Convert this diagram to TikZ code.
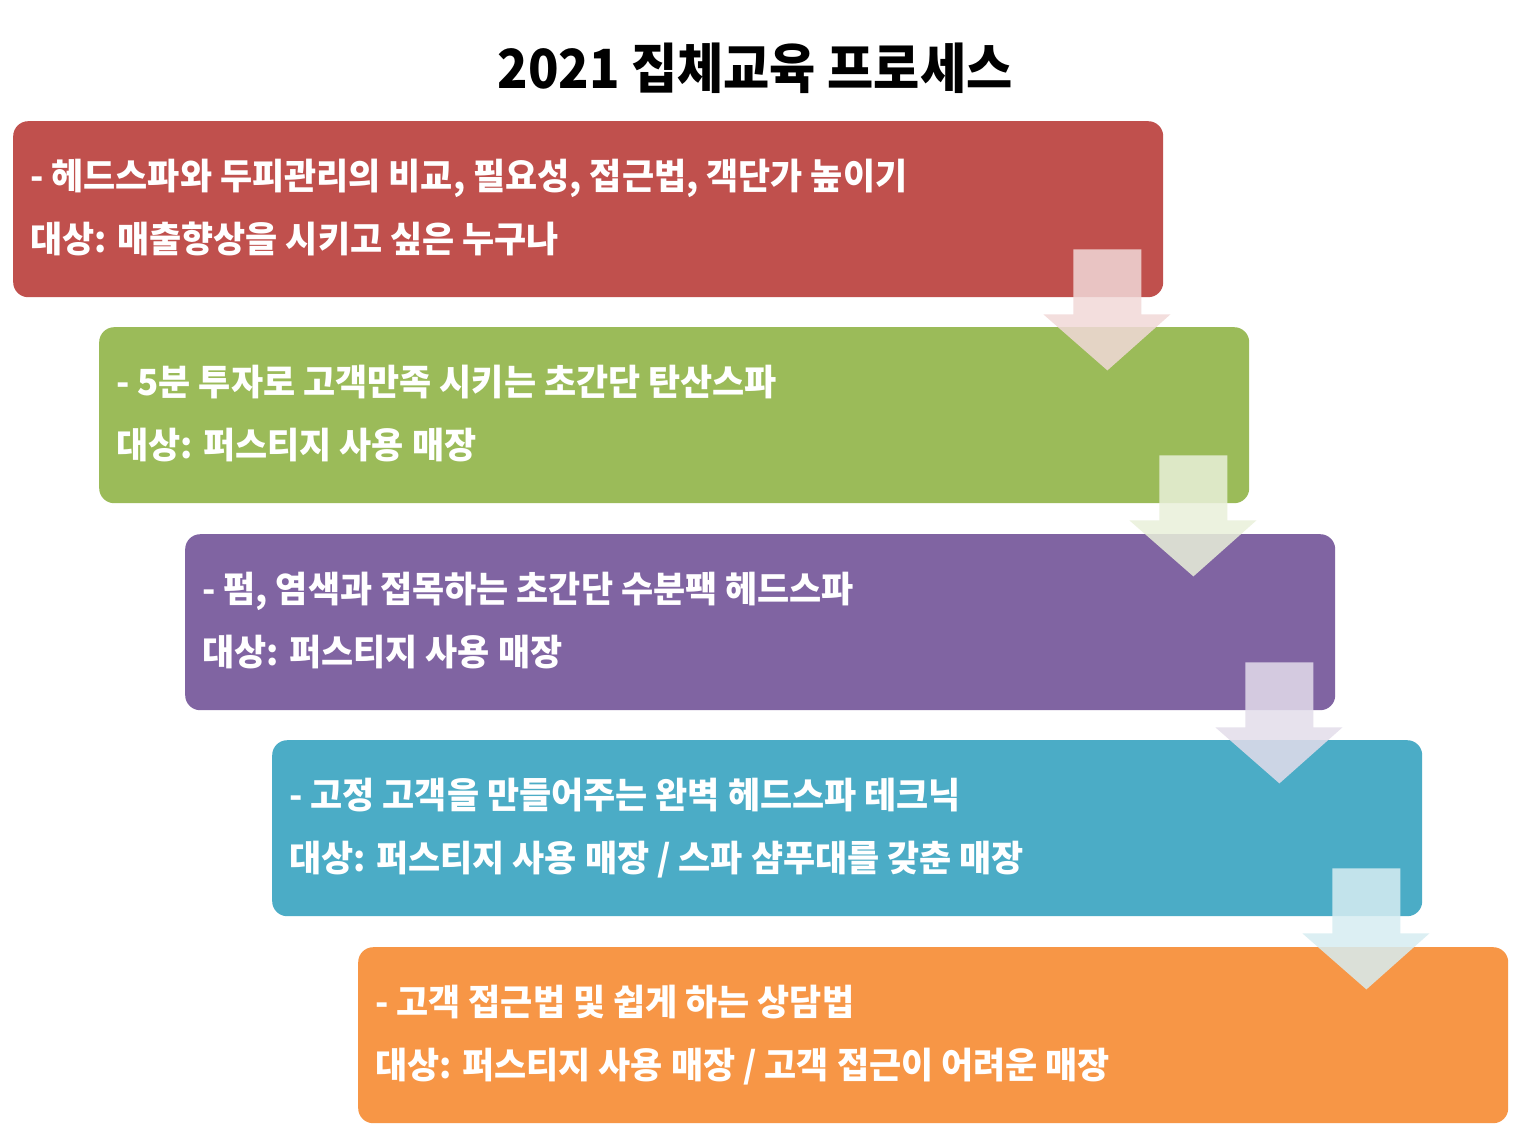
\documentclass[tikz,border=0pt]{standalone}
\usepackage{fontspec}
\newfontfamily\kfont[FakeStretch=0.97]{Noto Sans CJK KR}
\newfontfamily\tfont[FakeStretch=0.93]{Noto Sans CJK KR}
\usetikzlibrary{calc}
\definecolor{cA}{RGB}{192,80,77}
\definecolor{cB}{RGB}{155,187,89}
\definecolor{cC}{RGB}{128,100,162}
\definecolor{cD}{RGB}{75,172,198}
\definecolor{cE}{RGB}{247,150,70}
\begin{document}
\begin{tikzpicture}[x=1pt,y=-1pt,
  box/.style={rounded corners=15pt, minimum width=1150pt, minimum height=176pt, anchor=north west, inner sep=0pt, draw=none},
  txt/.style={anchor=base west, text=white, inner sep=0pt, font=\kfont\bfseries\fontsize{36}{40}\selectfont},
  arrowshape/.style={opacity=0.85}]
\fill[white] (0,0) rectangle (1514,1129);
\useasboundingbox (0,0) rectangle (1514,1129);
\node[anchor=base, inner sep=0pt, font=\tfont\bfseries\fontsize{54}{60}\selectfont] (title) at (755,89) {2021 집체교육 프로세스};
\node[box, fill=cA] (b1) at (13,121) {};
\node[box, fill=cB] (b2) at (99,327) {};
\node[box, fill=cC] (b3) at (185,534) {};
\node[box, fill=cD] (b4) at (272,740) {};
\node[box, fill=cE] (b5) at (358,947) {};
\foreach \b/\c in {b1/cA,b2/cB,b3/cC,b4/cD}{
  \fill[arrowshape, fill=\c!22!white, shift={(\b.south east)}]
    (-90,-48) -- (-22,-48) -- (-22,17) -- (7,17) -- (-56,73) -- (-120,17) -- (-90,17) -- cycle;
}
\node[txt] (t1a) at ($(b1.north west)+(17,68)$) {- 헤드스파와 두피관리의 비교, 필요성, 접근법, 객단가 높이기};
\node[txt] (t1b) at ($(b1.north west)+(17,131)$) {대상: 매출향상을 시키고 싶은 누구나};
\node[txt] (t2a) at ($(b2.north west)+(17,68)$) {- 5분 투자로 고객만족 시키는 초간단 탄산스파};
\node[txt] (t2b) at ($(b2.north west)+(17,131)$) {대상: 퍼스티지 사용 매장};
\node[txt] (t3a) at ($(b3.north west)+(17,68)$) {- 펌, 염색과 접목하는 초간단 수분팩 헤드스파};
\node[txt] (t3b) at ($(b3.north west)+(17,131)$) {대상: 퍼스티지 사용 매장};
\node[txt] (t4a) at ($(b4.north west)+(17,68)$) {- 고정 고객을 만들어주는 완벽 헤드스파 테크닉};
\node[txt] (t4b) at ($(b4.north west)+(17,131)$) {대상: 퍼스티지 사용 매장 / 스파 샴푸대를 갖춘 매장};
\node[txt] (t5a) at ($(b5.north west)+(17,68)$) {- 고객 접근법 및 쉽게 하는 상담법};
\node[txt] (t5b) at ($(b5.north west)+(17,131)$) {대상: 퍼스티지 사용 매장 / 고객 접근이 어려운 매장};
\end{tikzpicture}
\end{document}
